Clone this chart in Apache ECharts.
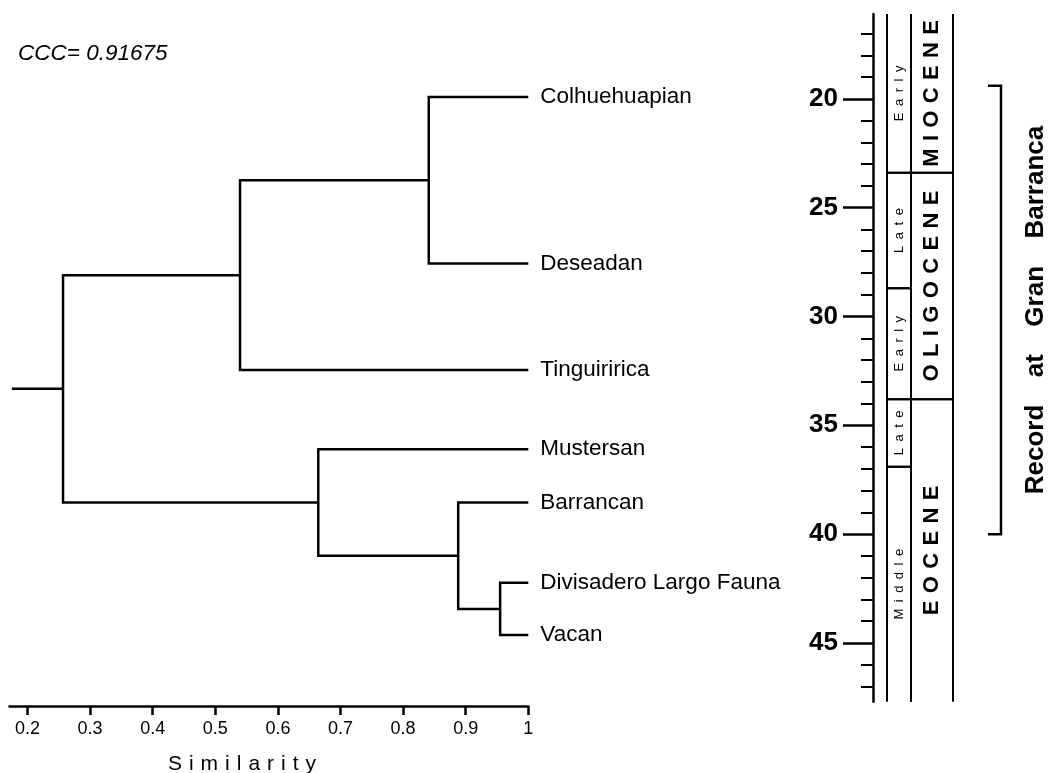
<!DOCTYPE html>
<html><head><meta charset="utf-8">
<script src="https://cdn.jsdelivr.net/npm/echarts@6/dist/echarts.min.js"></script>
<style>html,body{margin:0;padding:0;background:#fff}#c{width:1053px;height:773px}</style>
</head><body><div id="c"></div>
<script>
// ---------- data ----------
const leafNames = ['Colhuehuapian', 'Deseadan', 'Tinguiririca', 'Mustersan', 'Barrancan', 'Divisadero Largo Fauna', 'Vacan'];
const leafRows = [12.0, 36.05, 51.45, 62.9, 70.6, 82.2, 89.75];
// merges: [childA, childB, similarity]; leaves are 0..6, merged nodes get 7, 8, ...
const merges = [
  [0, 1, 0.841],
  [7, 2, 0.5395],
  [5, 6, 0.955],
  [4, 9, 0.888],
  [3, 10, 0.6645],
  [8, 11, 0.2567]
];
const rootStart = 0.175;
const simTicks = [0.2, 0.3, 0.4, 0.5, 0.6, 0.7, 0.8, 0.9, 1];
const cccText = 'CCC= 0.91675';
const maRange = [16.1, 47.7];
const maMajor = [20, 25, 30, 35, 40, 45];
const maMinor = [17, 18, 19, 21, 22, 23, 24, 26, 27, 28, 29, 31, 32, 33, 34, 36, 37, 38, 39, 41, 42, 43, 44, 46, 47];
const ageNames = ['Early', 'Late', 'Early', 'Late', 'Middle'];
const ageStart = [15.97, 23.4, 28.7, 33.8, 36.9];
const ageEnd = [23.4, 28.7, 33.8, 36.9, 47.8];
const epochNames = ['MIOCENE', 'OLIGOCENE', 'EOCENE'];
const epochStart = [15.97, 23.4, 33.8];
const epochEnd = [23.4, 33.8, 47.8];
const recordRange = [19.4, 40.0];
const recordWords = ['Record', 'at', 'Gran', 'Barranca'];
const xName = 'Similarity';

// ---------- build ----------
const FONT = '"Liberation Sans", Arial, Helvetica, sans-serif';
const spaced = (s, sp) => s.split('').join(sp);

const nodeX = leafRows.map(() => 1);
const nodeRow = leafRows.slice();
const segs = [];
merges.forEach(([a, b, sim]) => {
  segs.push({coords: [[nodeX[a], nodeRow[a]], [sim, nodeRow[a]], [sim, nodeRow[b]], [nodeX[b], nodeRow[b]]]});
  nodeX.push(sim);
  nodeRow.push((nodeRow[a] + nodeRow[b]) / 2);
});
const root = nodeX.length - 1;
segs.push({coords: [[rootStart, nodeRow[root]], [nodeX[root], nodeRow[root]]]});

function intervalRenderer(names, x0, x1, font, sp) {
  return function (params, api) {
    const s = api.value(0), e = api.value(1);
    const p0 = api.coord([x0, s]), p1 = api.coord([x1, e]);
    const cs = params.coordSys;
    const top = Math.max(p0[1], cs.y), bot = Math.min(p1[1], cs.y + cs.height);
    return {
      type: 'group',
      children: [
        {type: 'rect', shape: {x: p0[0], y: p0[1], width: p1[0] - p0[0], height: p1[1] - p0[1]},
         style: {fill: 'none', stroke: '#000', lineWidth: 2}},
        {type: 'text', x: (p0[0] + p1[0]) / 2, y: (top + bot) / 2, rotation: Math.PI / 2,
         style: {text: spaced(names[params.dataIndex], sp), font: font, fill: '#000',
                 align: 'center', verticalAlign: 'middle'}}
      ]
    };
  };
}

const recordText = recordWords.join(' \u2002 ');

const chart = echarts.init(document.getElementById('c'));
chart.setOption({
  animation: false,
  backgroundColor: '#fff',
  grid: [
    {left: 9.5, right: 524.7, top: 14, bottom: 67},
    {left: 873, width: 84, top: 14, height: 687.7}
  ],
  xAxis: [
    {gridIndex: 0, type: 'value', min: 0.1712, max: 1, position: 'bottom',
     axisLine: {show: true, onZero: false, lineStyle: {color: '#000', width: 2.5}},
     axisTick: {show: true, customValues: simTicks, length: 9, lineStyle: {color: '#000', width: 2.5}},
     axisLabel: {show: true, customValues: simTicks, fontSize: 18, fontFamily: FONT, color: '#000', margin: 14},
     splitLine: {show: false}},
    {gridIndex: 1, type: 'value', min: 0, max: 84, show: false}
  ],
  yAxis: [
    {gridIndex: 0, type: 'value', min: 0, max: 100, inverse: true, show: false},
    {gridIndex: 1, type: 'value', min: maRange[0], max: maRange[1], inverse: true, position: 'left', offset: 0,
     axisLine: {show: true, onZero: false, lineStyle: {color: '#000', width: 2.5}},
     axisTick: {show: true, customValues: maMajor, length: 30, lineStyle: {color: '#000', width: 2.5}},
     axisLabel: {show: true, customValues: maMajor, fontSize: 26, fontWeight: 'bold', fontFamily: FONT, color: '#000', margin: 35},
     splitLine: {show: false}},
    {gridIndex: 1, type: 'value', min: maRange[0], max: maRange[1], inverse: true, position: 'left', offset: 0,
     axisLine: {show: false, onZero: false},
     axisTick: {show: true, customValues: maMinor, length: 12, lineStyle: {color: '#000', width: 2}},
     axisLabel: {show: false},
     splitLine: {show: false}}
  ],
  series: [
    {type: 'lines', coordinateSystem: 'cartesian2d', xAxisIndex: 0, yAxisIndex: 0, polyline: true, silent: true,
     lineStyle: {color: '#000', width: 2.5, opacity: 1}, data: segs},
    {type: 'custom', xAxisIndex: 0, yAxisIndex: 0, silent: true,
     data: leafRows.map(r => [1, r]),
     renderItem: function (params, api) {
       const p = api.coord([api.value(0), api.value(1)]);
       return {type: 'text', x: p[0] + 12, y: p[1],
               style: {text: leafNames[params.dataIndex], font: '22.5px ' + FONT, fill: '#000',
                       align: 'left', verticalAlign: 'middle'}};
     }},
    {type: 'custom', xAxisIndex: 1, yAxisIndex: 1, clip: true, silent: true,
     renderItem: intervalRenderer(ageNames, 14, 38, '13px ' + FONT, '\u2002'),
     data: ageStart.map((s, i) => [s, ageEnd[i]]), encode: {y: [0, 1]}},
    {type: 'custom', xAxisIndex: 1, yAxisIndex: 1, clip: true, silent: true,
     renderItem: intervalRenderer(epochNames, 38, 80, 'bold 22px ' + FONT, '\u2004'),
     data: epochStart.map((s, i) => [s, epochEnd[i]]), encode: {y: [0, 1]}},
    {type: 'lines', coordinateSystem: 'cartesian2d', xAxisIndex: 1, yAxisIndex: 1, polyline: true, silent: true, clip: false,
     lineStyle: {color: '#000', width: 2.5, opacity: 1},
     data: [{coords: [[115, recordRange[0]], [128, recordRange[0]], [128, recordRange[1]], [115, recordRange[1]]]}]}
  ],
  graphic: [
    {type: 'text', x: 18, y: 53.5, silent: true,
     style: {text: cccText, font: 'italic 22.5px ' + FONT, fill: '#000', align: 'left', verticalAlign: 'middle'}},
    {type: 'text', x: 242, y: 764, silent: true,
     style: {text: spaced(xName, '\u2004'), font: '21px ' + FONT, fill: '#000', align: 'center', verticalAlign: 'middle'}},
    {type: 'text', x: 1036, y: 310, rotation: Math.PI / 2, silent: true,
     style: {text: recordText, font: 'bold 26px ' + FONT, fill: '#000', align: 'center', verticalAlign: 'middle'}}
  ]
});
</script>
</body></html>
